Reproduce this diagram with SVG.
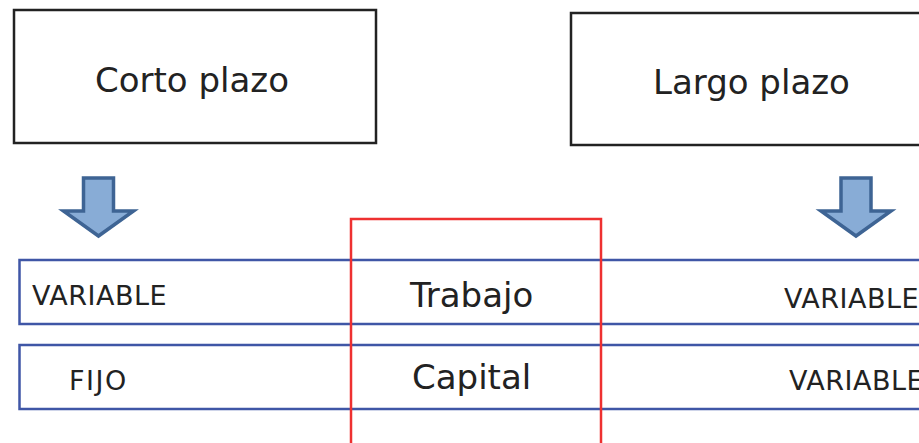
<svg xmlns="http://www.w3.org/2000/svg" width="919" height="443" viewBox="0 0 919 443">
<style>
.box{fill:#fff;stroke:#222;stroke-width:2.5}
.row{fill:none;stroke:#3F56A6;stroke-width:2.5}
.arr{fill:#88ACD6;stroke:#3E6494;stroke-width:3.5;stroke-linejoin:miter}
.big{font-family:"DejaVu Sans",Verdana,sans-serif;font-size:34px;fill:#222}
.sm{font-family:"DejaVu Sans",Verdana,sans-serif;font-size:27px;fill:#222;letter-spacing:0.5px}
.red{fill:none;stroke:#EE3030;stroke-width:2.5}
</style>
<defs>
<path id="downArrow" d="M-15,0 H15 V33 H35 L0,58 L-35,33 H-15 Z"/>
</defs>
<g id="corto">
<rect class="box" x="14" y="10" width="362" height="133"/>
<text class="big" x="95" y="92">Corto plazo</text>
</g>
<g id="largo">
<rect class="box" x="571" y="13" width="360" height="132"/>
<text class="big" x="653" y="94">Largo plazo</text>
</g>
<g id="connectors">
<use href="#downArrow" class="arr" x="98.5" y="178"/>
<use href="#downArrow" class="arr" x="856" y="178"/>
</g>
<g id="row-trabajo">
<rect class="row" x="19.5" y="260" width="910" height="64"/>
<text class="sm" x="32" y="305">VARIABLE</text>
<text class="big" x="410" y="307">Trabajo</text>
<text class="sm" x="784" y="308">VARIABLE</text>
</g>
<g id="row-capital">
<rect class="row" x="19.5" y="345" width="910" height="64"/>
<text class="sm" x="69" y="390" style="letter-spacing:1.5px">FIJO</text>
<text class="big" x="412" y="389">Capital</text>
<text class="sm" x="789" y="390">VARIABLE</text>
</g>
<g id="highlight">
<path class="red" d="M351,450 V219 H601 V450"/>
</g>
</svg>
